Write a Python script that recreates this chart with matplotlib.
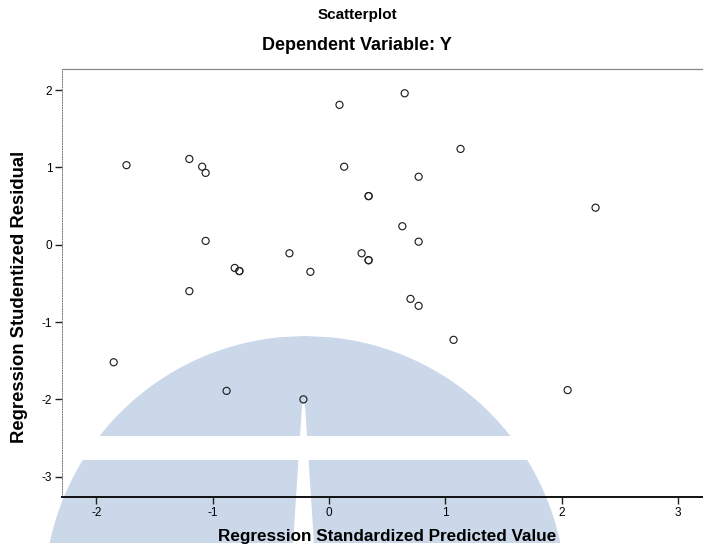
import matplotlib.pyplot as plt
import numpy as np
from matplotlib.patches import Polygon

# regression standardized predicted value / studentized residual
pred = [-1.85, -1.74, -1.20, -1.09, -1.06, -1.06, -1.20, -0.81, -0.77, -0.77,
        -0.88, -0.34, -0.16, -0.22, 0.09, 0.13, 0.65, 0.34, 0.34, 0.28,
        0.34, 0.34, 0.77, 0.63, 0.77, 1.13, 2.29, 0.70, 0.77, 1.07, 2.05]
resid = [-1.52, 1.03, 1.11, 1.01, 0.93, 0.05, -0.60, -0.30, -0.34, -0.34,
         -1.89, -0.11, -0.35, -2.00, 1.81, 1.01, 1.96, 0.63, 0.63, -0.11,
         -0.20, -0.20, 0.88, 0.24, 0.04, 1.24, 0.48, -0.70, -0.79, -1.23, -1.88]

xticks = [-2, -1, 0, 1, 2, 3]
yticks = [-3, -2, -1, 0, 1, 2]

W, H = 703, 548
plt.rcParams['font.family'] = ['Liberation Sans', 'DejaVu Sans']
plt.rcParams['axes.unicode_minus'] = False

fig = plt.figure(figsize=(W / 100, H / 100), dpi=100)


def fpx(x, y):
    return (x / W, 1 - y / H)


# faint watermark behind the chart
blue = '#cbd8ea'
cx, cy, R = 305, 597, 261


def arc_band(y_top, y_bot):
    ys = np.linspace(max(y_top, cy - R), y_bot, 80)
    xs = np.sqrt(np.maximum(R ** 2 - (ys - cy) ** 2, 0))
    left = [fpx(cx - x, y) for x, y in zip(xs, ys)]
    right = [fpx(cx + x, y) for x, y in zip(xs[::-1], ys[::-1])]
    return left + right


for top, bot in [(336, 436), (460, 543)]:
    fig.patches.append(Polygon(arc_band(top, bot), closed=True, transform=fig.transFigure,
                               facecolor=blue, edgecolor='none', zorder=-3))
slit = [fpx(302.1, 404), fpx(304.9, 404), fpx(314.3, 548), fpx(292.7, 548)]
fig.patches.append(Polygon(slit, closed=True, transform=fig.transFigure,
                           facecolor='white', edgecolor='none', zorder=-2))

ax = fig.add_axes([62 / W, (H - 497) / H, (W - 62) / W, 428 / H])
ax.set_facecolor('none')
ax.scatter(pred, resid, s=26, facecolors='none', edgecolors='#222222', linewidths=0.85, zorder=3)

ax.set_xlim(-2.294, 3.213)
ax.set_ylim(-3.263, 2.274)
ax.set_xticks(xticks)
ax.set_yticks(yticks)
ax.tick_params(axis='both', labelsize=8.5, length=5, width=1, color='#222222', pad=2)

ax.spines['right'].set_visible(False)
ax.spines['top'].set_color('#888888')
ax.spines['top'].set_linewidth(0.9)
ax.spines['left'].set_color('#777777')
ax.spines['left'].set_linewidth(0.7)
ax.spines['left'].set_linestyle(':')
ax.spines['bottom'].set_color('#111111')
ax.spines['bottom'].set_linewidth(1.4)

fig.text(*fpx(357, 15), 'Scatterplot', ha='center', va='center', fontsize=11, fontweight='bold')
fig.text(*fpx(357, 45), 'Dependent Variable: Y', ha='center', va='center', fontsize=13, fontweight='bold')
fig.text(*fpx(387, 537), 'Regression Standardized Predicted Value', ha='center', va='center',
         fontsize=12.3, fontweight='bold')
fig.text(*fpx(20, 297), 'Regression Studentized Residual', ha='center', va='center',
         rotation=90, fontsize=13.3, fontweight='bold')

fig.savefig('out.png', dpi=100)
